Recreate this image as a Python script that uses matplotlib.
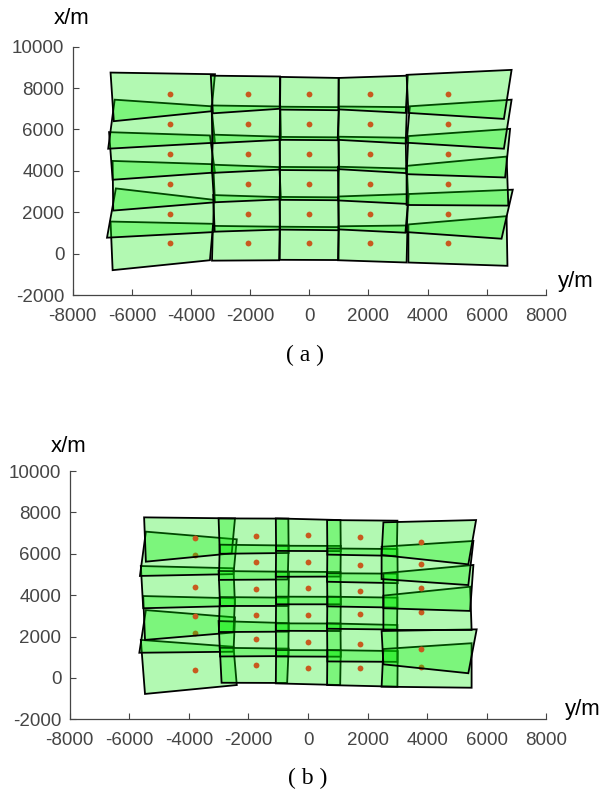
import matplotlib
matplotlib.use('Agg')
import matplotlib.pyplot as plt
from matplotlib.patches import Polygon

plt.rcParams['axes.unicode_minus'] = False

# Footprint corners, one list per column, rows from top to bottom.
# Each corner is (y/m, x/m): y is the horizontal axis, x the vertical one.

# -------- panel (a) --------
a_col1 = [
    [(-6720, 8750), (-3190, 8670), (-3310, 6880), (-6610, 6400)],
    [(-6580, 7440), (-3310, 7120), (-3190, 5360), (-6800, 5070)],
    [(-6770, 5870), (-3360, 5710), (-3190, 3920), (-6650, 3570)],
    [(-6650, 4480), (-3250, 4320), (-3190, 2480), (-6630, 2080)],
    [(-6540, 3150), (-3230, 2600), (-3250, 1040), (-6840, 770)],
    [(-6720, 1550), (-3250, 1440), (-3360, -320), (-6650, -800)],
]
a_col2 = [
    [(-3330, 8600), (-990, 8560), (-1000, 7000), (-3260, 6780)],
    [(-3300, 7160), (-980, 7110), (-960, 5500), (-3280, 5330)],
    [(-3260, 5750), (-1000, 5650), (-1000, 4060), (-3300, 3900)],
    [(-3300, 4300), (-1010, 4180), (-960, 2620), (-3220, 2480)],
    [(-3250, 2830), (-1000, 2730), (-1000, 1160), (-3200, 1060)],
    [(-3260, 1340), (-1000, 1300), (-1020, -320), (-3290, -340)],
]
a_col3 = [
    [(-980, 8540), (1000, 8490), (990, 6930), (-990, 6960)],
    [(-990, 7100), (1000, 7080), (980, 5480), (-1000, 5500)],
    [(-1000, 5640), (990, 5620), (1000, 4020), (-990, 4040)],
    [(-990, 4190), (1000, 4170), (990, 2580), (-1000, 2600)],
    [(-1000, 2740), (990, 2720), (1000, 1130), (-990, 1160)],
    [(-990, 1300), (1000, 1280), (990, -310), (-1000, -300)],
]
a_col4 = [
    [(990, 8490), (3330, 8600), (3260, 6800), (990, 6970)],
    [(1000, 7110), (3300, 7080), (3260, 5320), (960, 5500)],
    [(990, 5650), (3260, 5600), (3280, 3890), (1000, 4080)],
    [(970, 4200), (3300, 4110), (3350, 2400), (980, 2570)],
    [(980, 2760), (3360, 2880), (3250, 1010), (990, 1170)],
    [(990, 1320), (3320, 1360), (3290, -430), (970, -320)],
]
a_col5 = [
    [(3290, 8640), (6840, 8880), (6580, 6510), (3350, 6800)],
    [(3400, 7120), (6840, 7440), (6580, 5070), (3290, 5360)],
    [(3350, 5680), (6790, 6030), (6620, 3680), (3290, 3840)],
    [(3290, 4240), (6670, 4690), (6730, 2320), (3290, 2350)],
    [(3350, 2880), (6880, 3090), (6500, 720), (3290, 1040)],
    [(3350, 1410), (6670, 1810), (6700, -590), (3350, -430)],
]
a_dot_y = [-4700, -2060, 0, 2060, 4700]
a_dot_x = [
    [7700, 6250, 4810, 3370, 1930, 490],
    [7700, 6250, 4810, 3370, 1930, 490],
    [7700, 6250, 4810, 3370, 1930, 490],
    [7700, 6250, 4810, 3370, 1930, 490],
    [7700, 6250, 4810, 3370, 1930, 490],
]

# -------- panel (b) --------
b_col1 = [
    [(-5500, 7760), (-2450, 7710), (-2560, 6020), (-5440, 5620)],
    [(-5440, 7070), (-2390, 6700), (-2500, 5020), (-5640, 4930)],
    [(-5610, 5410), (-2500, 5300), (-2450, 3480), (-5530, 3370)],
    [(-5530, 3960), (-2450, 3850), (-2500, 2200), (-5470, 1840)],
    [(-5440, 3280), (-2450, 2930), (-2500, 1270), (-5660, 1220)],
    [(-5610, 1840), (-2500, 1510), (-2390, -340), (-5470, -770)],
]
b_col2 = [
    [(-3000, 7710), (-660, 7700), (-650, 6040), (-2960, 6000)],
    [(-2960, 6440), (-650, 6400), (-680, 4760), (-2990, 4740)],
    [(-3000, 5170), (-640, 5130), (-660, 3480), (-2950, 3480)],
    [(-2960, 3910), (-660, 3880), (-650, 2240), (-2990, 2220)],
    [(-3000, 2750), (-650, 2650), (-660, 1060), (-2950, 1040)],
    [(-2960, 1460), (-650, 1420), (-700, -240), (-2900, -230)],
]
b_col3 = [
    [(-1080, 7710), (1090, 7630), (1100, 6130), (-1070, 6140)],
    [(-1070, 6390), (1100, 6380), (1090, 4900), (-1080, 4890)],
    [(-1080, 5140), (1090, 5120), (1100, 3560), (-1070, 3560)],
    [(-1070, 3930), (1100, 3920), (1090, 2270), (-1080, 2280)],
    [(-1080, 2640), (1090, 2630), (1100, 1030), (-1070, 1040)],
    [(-1070, 1350), (1100, 1340), (1080, -340), (-1080, -260)],
]
b_col4 = [
    [(640, 7630), (3000, 7600), (2980, 5900), (650, 5960)],
    [(650, 6260), (3000, 6230), (3010, 4580), (640, 4650)],
    [(640, 5060), (2990, 5040), (3000, 3400), (650, 3460)],
    [(650, 3930), (3000, 3880), (2990, 2340), (640, 2380)],
    [(640, 2640), (3000, 2560), (3000, 780), (650, 800)],
    [(650, 1350), (3010, 1300), (3000, -420), (640, -340)],
]
b_col5 = [
    [(2530, 7520), (5640, 7630), (5380, 5490), (2470, 5940)],
    [(2470, 6340), (5550, 6620), (5380, 4490), (2470, 4780)],
    [(2530, 5060), (5550, 5460), (5440, 3240), (2530, 3370)],
    [(2530, 3980), (5440, 4410), (5490, 2320), (2530, 2320)],
    [(2470, 2270), (5660, 2350), (5380, 230), (2530, 660)],
    [(2530, 1400), (5490, 1680), (5490, -470), (2470, -420)],
]
b_dot_y = [-3790, -1745, 0, 1745, 3800]
b_dot_x = [
    [6780, 5940, 4410, 2980, 2180, 380],
    [6860, 5590, 4310, 3060, 1900, 610],
    [6890, 5610, 4330, 3060, 1755, 490],
    [6810, 5460, 4200, 3075, 1620, 467],
    [6590, 5530, 4340, 3204, 1385, 547],
]

x_ticks = [-8000, -6000, -4000, -2000, 0, 2000, 4000, 6000, 8000]
y_ticks = [-2000, 0, 2000, 4000, 6000, 8000, 10000]

face = (0.0, 0.93, 0.0, 0.3)
dot_color = '#c85a1e'
axis_grey = '#454545'


def draw_panel(ax, cols, dot_y, dot_x):
    z = 2
    for c, quads in enumerate(cols):
        # bottom image first, so later footprints cover earlier dots
        for r in reversed(range(len(quads))):
            ax.add_patch(Polygon(quads[r], closed=True, facecolor=face,
                                 edgecolor='black', linewidth=1.3, zorder=z))
            z += 1
            ax.plot(dot_y[c], dot_x[c][r], 'o', color=dot_color, ms=4.2,
                    mec='none', zorder=z)
            z += 1

    ax.set_xlim(-8000, 8000)
    ax.set_ylim(-2000, 10000)
    ax.set_xticks(x_ticks)
    ax.set_yticks(y_ticks)
    for s in ['top', 'right']:
        ax.spines[s].set_visible(False)
    for s in ['left', 'bottom']:
        ax.spines[s].set_color(axis_grey)
        ax.spines[s].set_linewidth(0.9)
    ax.tick_params(direction='in', length=4, width=0.8, colors=axis_grey,
                   labelsize=13.5)
    ax.tick_params(axis='x', pad=9)
    ax.tick_params(axis='y', pad=6)
    for lab in ax.get_xticklabels() + ax.get_yticklabels():
        lab.set_fontfamily('Liberation Sans')


fig = plt.figure(figsize=(6.11, 7.91), dpi=100)
W, H = 611, 791

ax_a = fig.add_axes([72.7 / W, 1 - 295 / H, 473.2 / W, 248.3 / H])
ax_b = fig.add_axes([69.6 / W, 1 - 719.4 / H, 476.8 / W, 248.4 / H])

draw_panel(ax_a, [a_col1, a_col2, a_col3, a_col4, a_col5], a_dot_y, a_dot_x)
draw_panel(ax_b, [b_col1, b_col2, b_col3, b_col4, b_col5], b_dot_y, b_dot_x)

lab_font = dict(fontsize=16, family='Liberation Sans', color='black',
                ha='center', va='center')
fig.text(72 / W, 1 - 18 / H, 'x/m', **lab_font)
fig.text(576 / W, 1 - 282 / H, 'y/m', **lab_font)
fig.text(69 / W, 1 - 446 / H, 'x/m', **lab_font)
fig.text(583 / W, 1 - 709 / H, 'y/m', **lab_font)

cap_font = dict(fontsize=17, family=['Liberation Serif', 'DejaVu Serif'],
                color='black', ha='center', va='center')
fig.text(305 / W, 1 - 355 / H, '( a )', **cap_font)
fig.text(308 / W, 1 - 778 / H, '( b )', **cap_font)

fig.savefig('out.png', dpi=100)
